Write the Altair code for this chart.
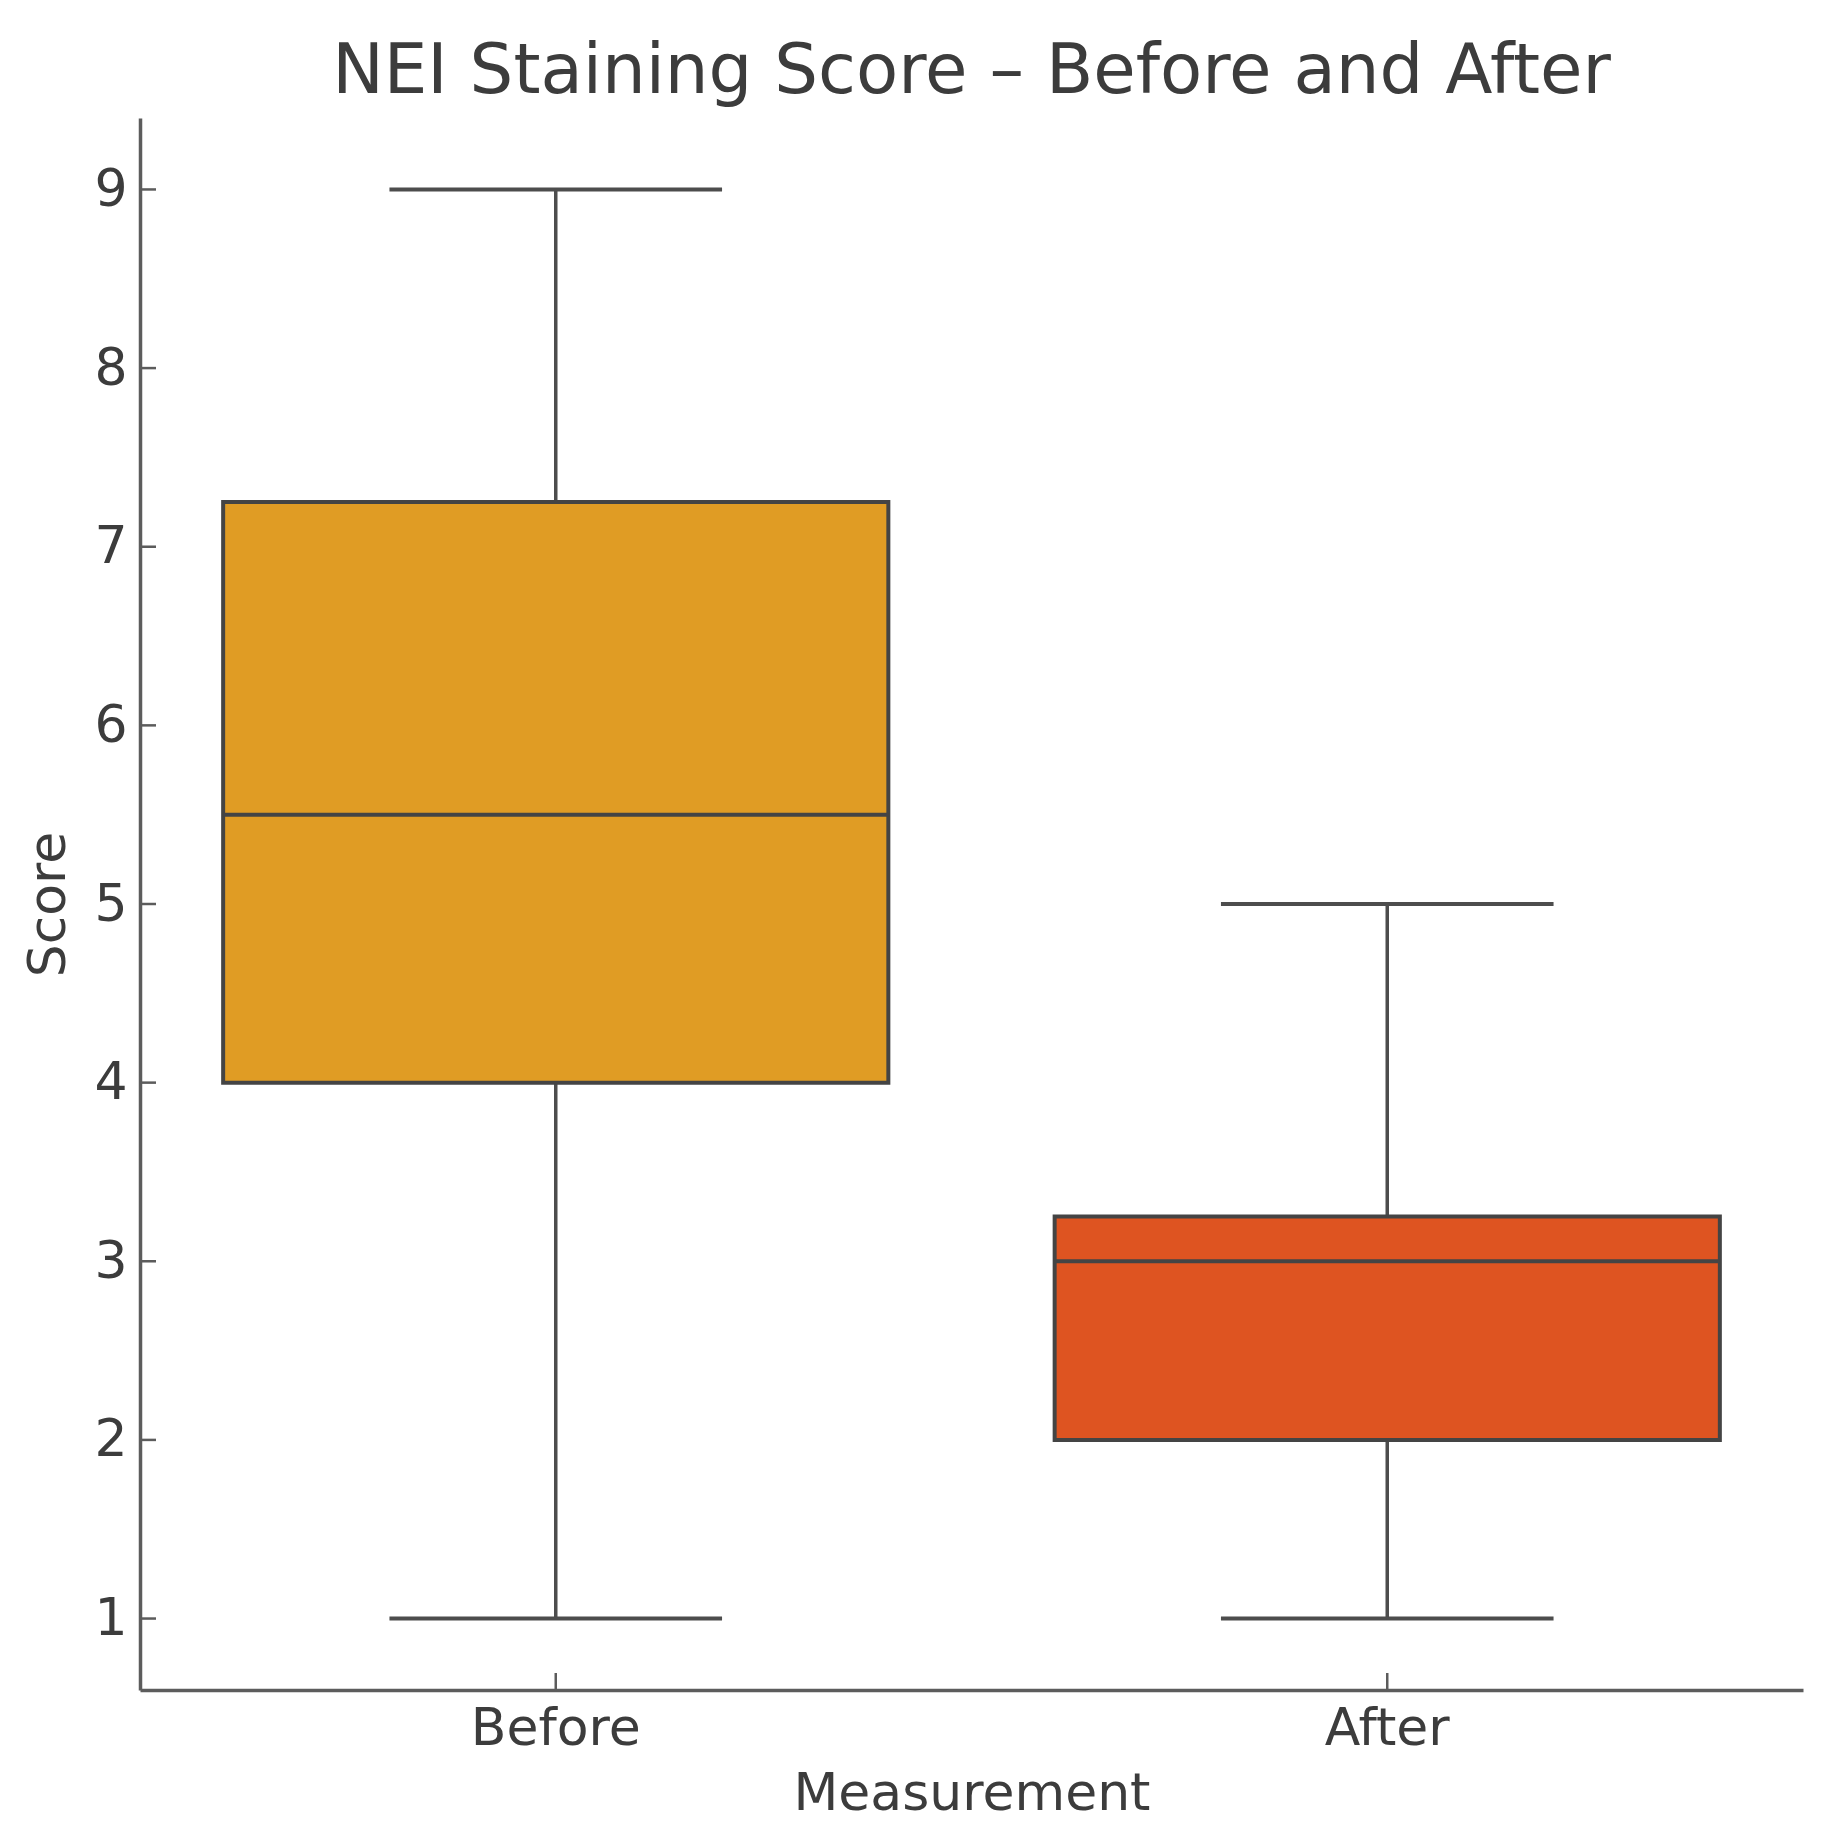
import altair as alt
import pandas as pd

# ---- data ----
groups = ["Before", "After"]
whisker_low = [1, 1]
q1 = [4, 2]
median = [5.5, 3]
q3 = [7.25, 3.25]
whisker_high = [9, 5]
y_ticks = [1, 2, 3, 4, 5, 6, 7, 8, 9]

fills = ["#E09C24", "#DE5421"]
edge = "#444444"
axis_col = "#5c5c5c"
text_col = "#3c3c3c"
FONT = "DejaVu Sans"

W, H = 1663, 1572

stats = pd.DataFrame({
    "Measurement": groups,
    "lo": whisker_low,
    "q1": q1,
    "med": median,
    "q3": q3,
    "hi": whisker_high,
})
ticks_df = pd.DataFrame({"t": y_ticks})

xscale = alt.Scale(domain=groups, paddingInner=0, paddingOuter=0)
yscale = alt.Scale(domain=[0.6, 9.4], nice=False, zero=False)

x_enc = alt.X(
    "Measurement:N", scale=xscale, sort=groups,
    axis=alt.Axis(title="Measurement", labelAngle=0, ticks=False,
                  labelPadding=13, titlePadding=14,
                  domainColor=axis_col, domainWidth=3.5,
                  labelFont=FONT, labelFontSize=52, labelColor=text_col,
                  titleFont=FONT, titleFontSize=52, titleColor=text_col,
                  titleFontWeight="normal", grid=False),
)
y_axis = alt.Axis(title="Score", values=y_ticks, format="d", ticks=False,
                  labelPadding=13, titlePadding=18,
                  domainColor=axis_col, domainWidth=3.5,
                  labelFont=FONT, labelFontSize=52, labelColor=text_col,
                  titleFont=FONT, titleFontSize=52, titleColor=text_col,
                  titleFontWeight="normal", grid=False)

base = alt.Chart(stats)

whiskers = base.mark_rule(color="#4d4d4d", strokeWidth=3.5).encode(
    x=x_enc,
    y=alt.Y("lo:Q", scale=yscale, axis=y_axis),
    y2="hi:Q",
)

caps_lo = base.mark_bar(width=alt.RelativeBandSize(0.4), stroke="#4d4d4d",
                        strokeWidth=4, fillOpacity=0).encode(
    x=alt.X("Measurement:N", scale=xscale, sort=groups),
    y=alt.Y("lo:Q", scale=yscale), y2="lo:Q",
)
caps_hi = base.mark_bar(width=alt.RelativeBandSize(0.4), stroke="#4d4d4d",
                        strokeWidth=4, fillOpacity=0).encode(
    x=alt.X("Measurement:N", scale=xscale, sort=groups),
    y=alt.Y("hi:Q", scale=yscale), y2="hi:Q",
)

boxes = base.mark_bar(width=alt.RelativeBandSize(0.8), stroke=edge,
                      strokeWidth=4, opacity=1).encode(
    x=alt.X("Measurement:N", scale=xscale, sort=groups),
    y=alt.Y("q1:Q", scale=yscale), y2="q3:Q",
    color=alt.Color("Measurement:N", scale=alt.Scale(domain=groups, range=fills),
                    legend=None),
)

medians = base.mark_bar(width=alt.RelativeBandSize(0.8), stroke=edge,
                        strokeWidth=4, fillOpacity=0).encode(
    x=alt.X("Measurement:N", scale=xscale, sort=groups),
    y=alt.Y("med:Q", scale=yscale), y2="med:Q",
)

yticks = alt.Chart(ticks_df).mark_rule(color=axis_col, strokeWidth=2.5).encode(
    y=alt.Y("t:Q", scale=yscale),
    x=alt.value(0), x2=alt.value(16),
)

xticks = base.mark_rule(color=axis_col, strokeWidth=2.5).encode(
    x=alt.X("Measurement:N", scale=xscale, sort=groups),
    y=alt.value(H), y2=alt.value(H - 17),
)

chart = alt.layer(whiskers, caps_lo, caps_hi, boxes, medians, yticks, xticks).properties(
    width=W, height=H,
    title=alt.TitleParams("NEI Staining Score \u2013 Before and After", font=FONT,
                          fontSize=69, color=text_col, fontWeight="normal",
                          anchor="middle", baseline="alphabetic", offset=27, dy=71),
    autosize=alt.AutoSizeParams(type="none"),
    padding={"left": 132, "top": 110, "right": 23, "bottom": 147},
    background="white",
).configure_view(stroke=None)

chart.save("out.html", embed_options={"renderer": "svg", "actions": False})
